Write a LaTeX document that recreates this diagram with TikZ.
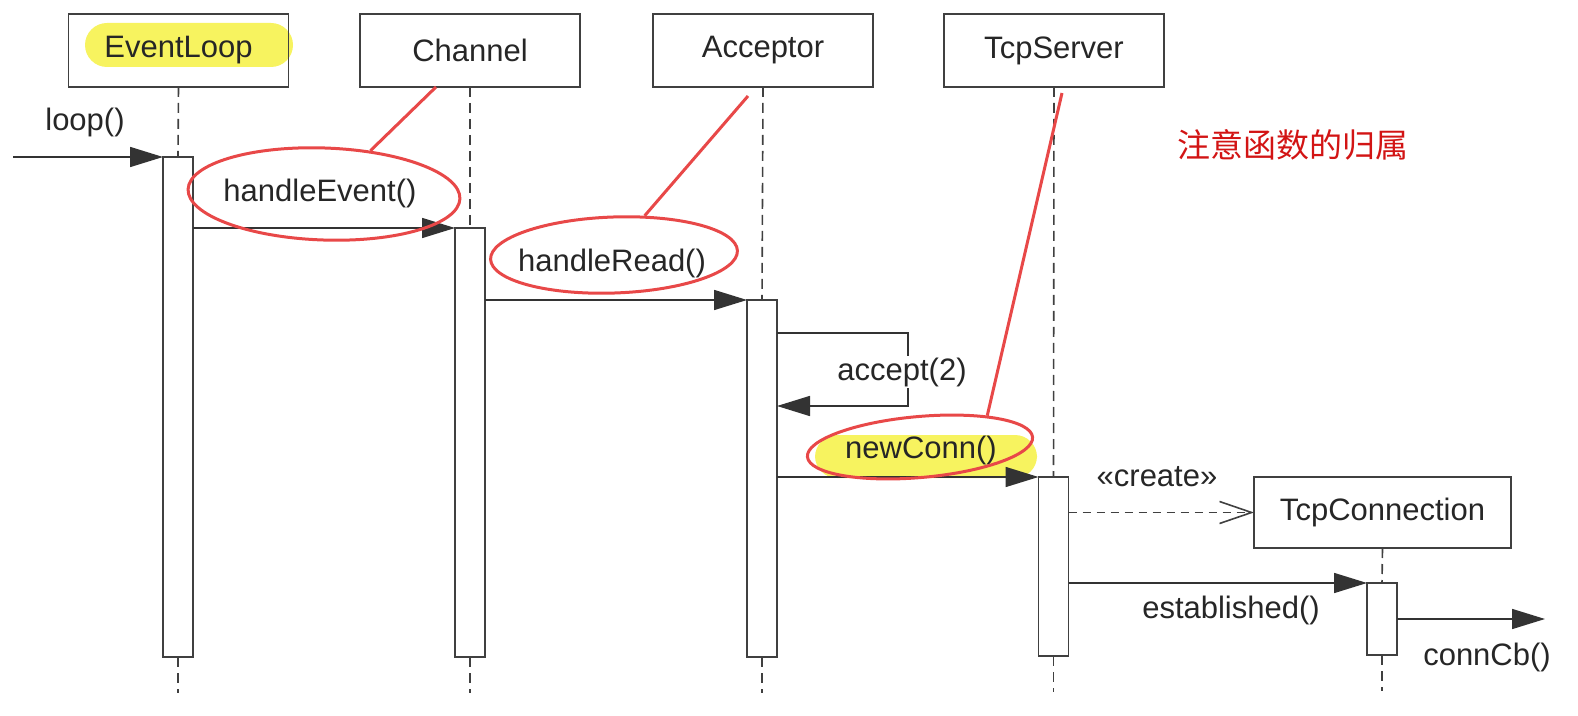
\documentclass[tikz,border=0pt]{standalone}
\usepackage{fontspec}
\setmainfont{Liberation Sans}
\newfontfamily\cjk{Noto Sans CJK SC}
\usetikzlibrary{arrows.meta,shapes.geometric}
\definecolor{markred}{RGB}{232,72,72}
\definecolor{notered}{RGB}{210,20,20}
\definecolor{hlyellow}{RGB}{247,243,95}

\begin{document}
\begin{tikzpicture}[x=0.5pt,y=-0.5pt,
  obj/.style={draw=black!75, line width=0.9pt, minimum width=110pt, minimum height=36.5pt, inner sep=0pt, outer sep=0pt},
  actbar/.style={draw=black!75, fill=white, line width=0.9pt, minimum width=15pt, inner sep=0pt, outer sep=0pt},
  life/.style={draw=black!75, line width=0.8pt, dash pattern=on 5pt off 3pt},
  msg/.style={draw=black!80, line width=0.8pt, -{Triangle[length=16.5pt,width=10pt]}},
  createmsg/.style={draw=black!75, line width=0.8pt, dash pattern=on 4pt off 3pt, -{Straight Barb[length=16pt,width=11pt]}},
  redring/.style={draw=markred, line width=1.5pt, ellipse, inner sep=0pt},
  redline/.style={draw=markred, line width=1.5pt},
  hl/.style={fill=hlyellow, rounded corners=11pt}]
  \tikzstyle{every node}=[font=\fontsize{15.5}{18}\selectfont, text=black!85]
  \useasboundingbox (0,0) rectangle (1578,716);

  % yellow marker
  \fill[hl] (85,23) rectangle (293,67);
  \fill[hl] (815,435) rectangle (1037,478);

  % objects
  \node[obj] (evl) at (178.5,50.5) {EventLoop};
  \node[obj] (chn) at (470,50.5) {Channel};
  \node[obj] (acc) at (763,50.5) {Acceptor};
  \node[obj] (tsv) at (1054,50.5) {TcpServer};
  \node[obj, minimum width=128.5pt, minimum height=35.5pt] (tcn) at (1382.5,512.5) {TcpConnection};

  % activations
  \node[actbar, minimum height=250pt] (elbar) at (178,407) {};
  \node[actbar, minimum height=214.5pt] (chbar) at (470,442.5) {};
  \node[actbar, minimum height=178.5pt] (acbar) at (762,478.5) {};
  \node[actbar, minimum height=89.5pt] (tsbar) at (1053.5,566.5) {};
  \node[actbar, minimum height=36pt] (tcbar) at (1382,619) {};

  % lifelines
  \draw[life] (evl.south) -- (elbar.north);
  \draw[life] (elbar.south) -- ++(0,36);
  \draw[life] (chn.south) -- (chbar.north);
  \draw[life] (chbar.south) -- ++(0,36);
  \draw[life] (acc.south) -- (acbar.north);
  \draw[life] (acbar.south) -- ++(0,36);
  \draw[life] (tsv.south) -- (tsbar.north);
  \draw[life] (tsbar.south) -- ++(0,36);
  \draw[life] (tcn.south) -- (tcbar.north);
  \draw[life] (tcbar.south) -- ++(0,36);

  % messages
  \coordinate (loopin) at (13,157);
  \draw[msg] (loopin) -- (elbar.north west);
  \node (looplbl) at (85,122) {loop()};
  \draw[msg] (elbar.east |- chbar.north) -- (chbar.north west);
  \node (hevlbl) at (320,193) {handleEvent()};
  \draw[msg] (chbar.east |- acbar.north) -- (acbar.north west);
  \node (hrdlbl) at (612,263) {handleRead()};
  \coordinate (acctop) at (908,333);
  \coordinate (accbot) at (908,406);
  \draw[msg] (acbar.east |- acctop) -- (acctop) -- (accbot) -- (acbar.east |- accbot);
  \node[fill=white, inner sep=1pt] (acclbl) at (902,372) {accept(2)};
  \draw[msg] (acbar.east |- tsbar.north) -- (tsbar.north west);
  \node (ncnlbl) at (921,450) {newConn()};
  \draw[createmsg] (tsbar.east |- tcn.west) -- (tcn.west);
  \node (crtlbl) at (1157,477) {«create»};
  \draw[msg] (tsbar.east |- tcbar.north) -- (tcbar.north west);
  \node (estlbl) at (1231,610) {established()};
  \coordinate (cbout) at (1545,619);
  \draw[msg] (tcbar.east |- cbout) -- (cbout);
  \node (cblbl) at (1487,657) {connCb()};

  % red notes
  \node[anchor=west, text=notered, font=\cjk\fontsize{16.5}{20}\selectfont] (note) at (1170,145) {注意函数的归属};
  \node[redring, minimum width=136pt, minimum height=46pt, rotate=-2] (hevring) at (324,194) {};
  \node[redring, minimum width=123.5pt, minimum height=38pt, rotate=2] (hrdring) at (614,255) {};
  \node[redring, minimum width=113pt, minimum height=30.5pt, rotate=5] (ncnring) at (920,447) {};
  \draw[redline] ([xshift=-17pt]chn.south) -- (hevring.45);
  \draw[redline] ([xshift=-7.5pt,yshift=-4.5pt]acc.south) -- (hrdring.50);
  \draw[redline] ([xshift=4pt,yshift=-3pt]tsv.south) -- (ncnring.20);
\end{tikzpicture}
\end{document}
